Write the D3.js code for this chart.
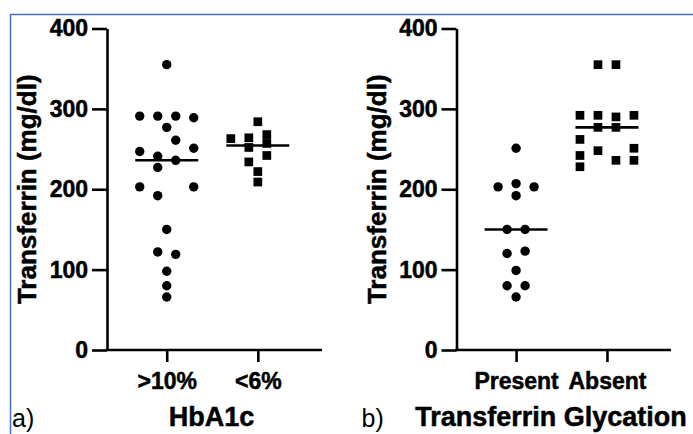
<!DOCTYPE html>
<html>
<head>
<meta charset="utf-8">
<script src="https://cdn.jsdelivr.net/npm/d3@7"></script>
<style>
  body { margin: 0; background: #fff; }
  svg { display: block; font-family: "Liberation Sans", Arial, sans-serif; }
</style>
</head>
<body>
<svg id="chart" width="693" height="434"></svg>
<script>
// panel a) HbA1c groups
var hba_cats = [">10%", "<6%"];
var hba_high = [355, 291, 291, 291, 289, 277, 261, 251, 247, 241, 236, 227, 203, 203, 192, 150, 122, 119, 98, 80, 66];
var hba_high_lane = [0, -3, -1, 1, 3, 0, 1, 3, -3, -1, 1, -1, -3, 3, -1, 0, -1, 1, 0, 0, 0];
var hba_low = [284, 263, 264, 252, 268, 257, 242, 234, 222, 209];
var hba_low_lane = [0, -3, -1, -1, 1, 1, 1, -1, 0, 0];

// panel b) transferrin glycation groups
var gly_cats = ["Present", "Absent"];
var gly_present = [251, 203, 207, 203, 192, 150, 150, 120, 123, 99, 80, 80, 66];
var gly_present_lane = [0, -2, 0, 2, 0, -1, 1, -1, 1, 0, -1, 1, 0];
var gly_absent = [355, 355, 292, 292, 290, 292, 277, 277, 262, 248, 251, 242, 228, 236, 236];
var gly_absent_lane = [-1, 1, -3, -1, 1, 3, -1, 1, -3, -1, 3, -3, -3, 1, 3];

var y_ticks = [0, 100, 200, 300, 400];

var svg = d3.select("#chart");

// thin blue frame of the figure (top and left)
svg.append("line").attr("x1", 10).attr("x2", 693).attr("y1", 14.5).attr("y2", 14.5)
  .style("stroke", "#4472c4").style("stroke-width", 1.5);
svg.append("line").attr("x1", 10.5).attr("x2", 10.5).attr("y1", 14).attr("y2", 434)
  .style("stroke", "#4472c4").style("stroke-width", 1.5);

var y = d3.scaleLinear().domain([0, 400]).range([350, 28.5]);
var lane = d3.scaleLinear().domain([-1, 1]).range([-9, 9]);

function bold_text(sel, size) {
  sel.style("font-size", size + "px").style("font-weight", "bold").style("fill", "#000")
    .style("stroke", "#000").style("stroke-width", 0.5)
    .style("font-family", "'Liberation Sans', Arial, sans-serif");
}

function panel(x0, x1, cats, groups, letter, title, title_x) {
  var x = d3.scalePoint().domain(cats).range([x0, x1]).padding(0.68).align(0.482);
  var g = svg.append("g");

  var yAxis = g.append("g")
    .attr("transform", "translate(" + x0 + ",0)")
    .call(d3.axisLeft(y).tickValues(y_ticks).tickFormat(d3.format("d"))
      .tickSize(15).tickSizeOuter(0).tickPadding(4));

  var xAxis = g.append("g")
    .attr("transform", "translate(0," + y(0) + ")")
    .call(d3.axisBottom(x).tickSize(12).tickSizeOuter(0).tickPadding(11));

  [yAxis, xAxis].forEach(function(a) {
    a.select(".domain").style("stroke", "#000").style("stroke-width", 2.6);
    a.selectAll(".tick line").style("stroke", "#000").style("stroke-width", 2.6);
    a.selectAll(".tick text").call(bold_text, 23);
  });
  xAxis.select(".domain").attr("d", "M" + (x0 - 1.3) + ",0H" + x1);

  g.append("text")
    .attr("transform", "translate(" + (x0 - 71) + "," + y(200) + ") rotate(-90)")
    .attr("text-anchor", "middle")
    .call(bold_text, 26)
    .text("Transferrin (mg/dl)");

  g.append("text")
    .attr("x", title_x).attr("y", 426)
    .attr("text-anchor", "middle")
    .call(bold_text, 27)
    .text(title);

  g.append("text")
    .attr("x", x0 - 95).attr("y", 427)
    .style("font-size", "25px")
    .text(letter);

  groups.forEach(function(G) {
    var cx = x(G.cat);
    var pts = G.values.map(function(v, i) { return { v: v, l: G.lanes[i] }; });
    var dots = g.append("g").selectAll(".pt").data(pts);

    if (G.shape == "circle") {
      dots.enter().append("circle")
        .attr("class", "pt")
        .attr("r", 4.7)
        .attr("cx", function(d) { return cx + lane(d.l); })
        .attr("cy", function(d) { return y(d.v); })
        .style("fill", "#000");
    }
    else {
      var sq = 8.7;
      dots.enter().append("rect")
        .attr("class", "pt")
        .attr("width", sq).attr("height", sq)
        .attr("x", function(d) { return cx + lane(d.l) - sq / 2; })
        .attr("y", function(d) { return y(d.v) - sq / 2; })
        .style("fill", "#000");
    }

    // median bar
    var med = d3.median(G.values);
    g.append("line")
      .attr("x1", cx - 31.5).attr("x2", cx + 31.5)
      .attr("y1", y(med)).attr("y2", y(med))
      .style("stroke", "#000").style("stroke-width", 2.6);
  });
}

panel(107, 322, hba_cats, [
  { cat: ">10%", values: hba_high, lanes: hba_high_lane, shape: "circle" },
  { cat: "<6%", values: hba_low, lanes: hba_low_lane, shape: "square" }
], "a)", "HbA1c", 211.5);

panel(456.5, 671, gly_cats, [
  { cat: "Present", values: gly_present, lanes: gly_present_lane, shape: "circle" },
  { cat: "Absent", values: gly_absent, lanes: gly_absent_lane, shape: "square" }
], "b)", "Transferrin Glycation", 551);
</script>
</body>
</html>
